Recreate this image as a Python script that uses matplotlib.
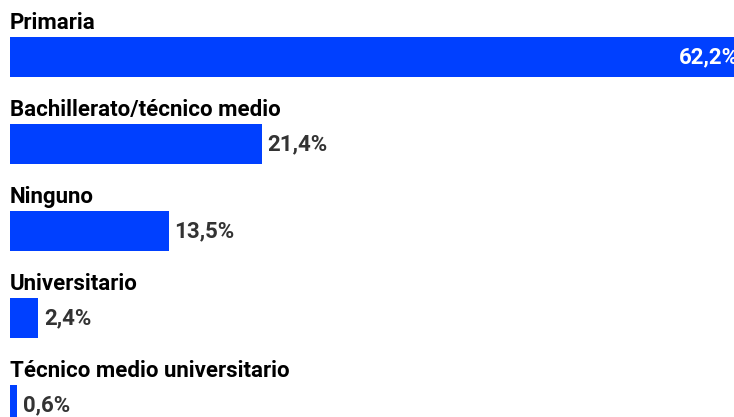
import matplotlib.pyplot as plt

plt.rcParams['font.family'] = ['Roboto', 'DejaVu Sans']

categorias = ['Primaria', 'Bachillerato/técnico medio', 'Ninguno',
              'Universitario', 'Técnico medio universitario']
valores = [62.2, 21.4, 13.5, 2.4, 0.6]
etiquetas = ['62,2%', '21,4%', '13,5%', '2,4%', '0,6%']

azul = '#0040ff'

fig = plt.figure(figsize=(7.34, 4.17), dpi=100)
ax = fig.add_axes([0, 0, 1, 1])

pos = list(range(len(valores)))
ax.barh(pos, valores, height=0.46, color=azul, left=0)

for i, (cat, v, et) in enumerate(zip(categorias, valores, etiquetas)):
    ax.text(0, i - 0.32, cat, fontsize=16, fontweight='bold',
            color='black', va='baseline', ha='left')
    if v > 50:
        ax.annotate(et, (v, i), xytext=(-3, 0), textcoords='offset points',
                    ha='right', va='center', fontsize=16,
                    fontweight='bold', color='white', annotation_clip=False)
    else:
        ax.annotate(et, (v, i), xytext=(4, 0), textcoords='offset points',
                    ha='left', va='center', fontsize=16,
                    fontweight='bold', color='#333333')

ax.set_xlim(-10 / 11.78, 724 / 11.78)
ax.set_ylim(4.138, -0.655)
ax.axis('off')

plt.savefig('out.png', dpi=100)
